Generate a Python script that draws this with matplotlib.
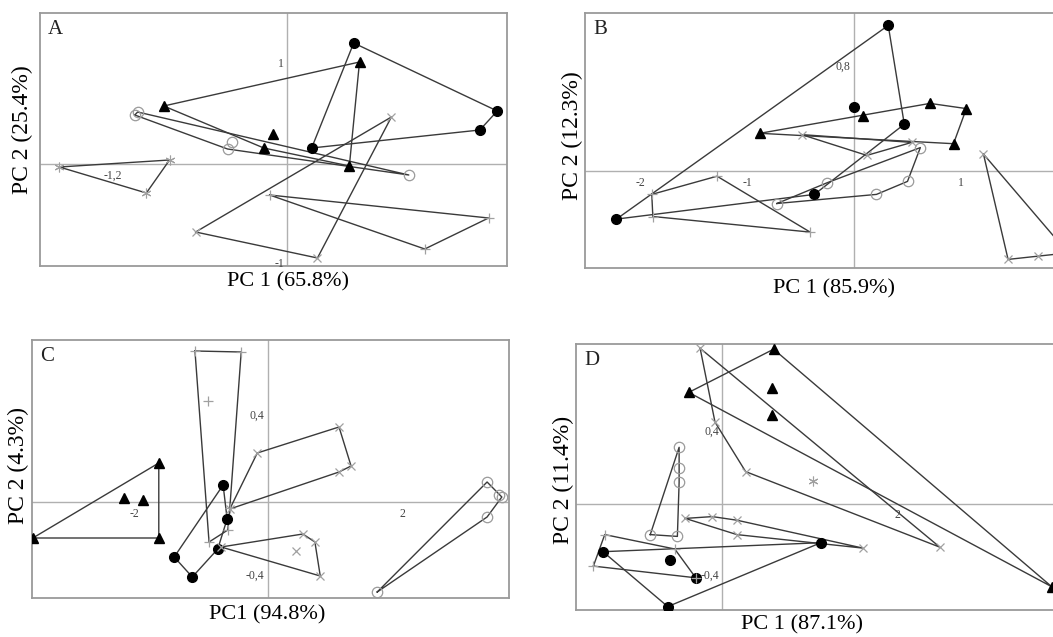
import matplotlib.pyplot as plt

plt.rcParams['font.family'] = ['Liberation Serif', 'DejaVu Serif']

W, H = 1053, 637

# ---- panel A : PC scores per group
a_dot = [(0.46, 1.21), (1.45, 0.53), (1.33, 0.34), (0.17, 0.16)]
a_tri = [(-0.85, 0.58), (0.50, 1.02), (-0.10, 0.30), (-0.16, 0.16), (0.43, -0.02)]
a_ring = [(-1.03, 0.52), (-1.05, 0.49), (-0.38, 0.22), (-0.41, 0.15), (0.84, -0.11)]
a_star = [(-1.57, -0.03), (-0.81, 0.04), (-0.97, -0.29)]
a_x = [(0.72, 0.47), (-0.63, -0.68), (0.21, -0.94)]
a_plus = [(-0.12, -0.31), (1.39, -0.54), (0.95, -0.85)]

# ---- panel B
b_dot = [(0.32, 1.12), (0.0, 0.49), (0.47, 0.36), (-0.37, -0.18), (-2.22, -0.37)]
b_tri = [(-0.88, 0.29), (0.08, 0.42), (0.71, 0.52), (1.05, 0.48), (0.93, 0.21)]
b_ring = [(0.62, 0.18), (0.50, -0.08), (0.21, -0.18), (-0.25, -0.09), (-0.72, -0.25)]
b_x = [(-0.49, 0.28), (0.12, 0.12), (0.54, 0.22)]
b_plus = [(-1.89, -0.18), (-1.28, -0.04), (-0.41, -0.47), (-1.88, -0.35)]
b_x2 = [(1.21, 0.13), (1.44, -0.68), (1.72, -0.65), (2.0, -0.63)]

# ---- panel C
c_tri = [(-1.63, 0.195), (-3.51, -0.18), (-1.63, -0.18), (-2.15, 0.02), (-1.87, 0.01)]
c_dot = [(-0.67, 0.085), (-0.61, -0.085), (-0.75, -0.235), (-1.40, -0.275), (-1.13, -0.375)]
c_plus = [(-1.09, 0.755), (-0.40, 0.75), (-0.90, 0.505), (-0.88, -0.20), (-0.57, -0.03), (-0.60, -0.14)]
c_x = [(-0.16, 0.245), (1.06, 0.375), (1.24, 0.18), (1.06, 0.15), (-0.57, -0.035)]
c_x2 = [(0.52, -0.16), (0.70, -0.20), (0.42, -0.245), (0.78, -0.37), (-0.70, -0.225)]
c_ring = [(3.27, 0.10), (3.45, 0.035), (3.49, 0.025), (3.27, -0.075), (1.63, -0.45)]

# ---- panel D
d_tri = [(0.59, 0.86), (-0.38, 0.62), (0.57, 0.645), (0.57, 0.495), (3.77, -0.46)]
d_dot = [(-1.36, -0.265), (-0.59, -0.31), (-0.30, -0.41), (-0.62, -0.57), (1.13, -0.215)]
d_plus = [(-1.34, -0.17), (-0.54, -0.25), (-0.30, -0.41), (-1.47, -0.345)]
d_ring = [(-0.49, 0.315), (-0.49, 0.20), (-0.49, 0.12), (-0.82, -0.17), (-0.51, -0.18)]
d_x = [(-0.25, 0.865), (-0.08, 0.455), (0.27, 0.18), (2.49, -0.24)]
d_x2 = [(-0.42, -0.08), (-0.11, -0.07), (0.17, -0.09), (0.17, -0.17), (1.61, -0.245)]
d_star = [(1.04, 0.13)]

STYLE = {
    'dot': dict(marker='o', color='black', ms=7),
    'tri': dict(marker='^', color='black', ms=7),
    'ring': dict(marker='o', mfc='none', mec='#9a9a9a', ms=7.5, mew=0.9),
    'x': dict(marker='x', color='#a0a0a0', ms=6, mew=0.9),
    'plus': dict(marker='+', color='#a0a0a0', ms=7, mew=0.9),
    'star': dict(marker=(6, 2, 0), color='#a0a0a0', ms=7, mew=0.8),
}


def hull(pts):
    pts = sorted(set(pts))
    if len(pts) < 3:
        return pts

    def cross(o, a, b):
        return (a[0] - o[0]) * (b[1] - o[1]) - (a[1] - o[1]) * (b[0] - o[0])

    lower, upper = [], []
    for p in pts:
        while len(lower) >= 2 and cross(lower[-2], lower[-1], p) <= 0:
            lower.pop()
        lower.append(p)
    for p in reversed(pts):
        while len(upper) >= 2 and cross(upper[-2], upper[-1], p) <= 0:
            upper.pop()
        upper.append(p)
    return lower[:-1] + upper[:-1]


# panel boxes in pixels (left, top, right, bottom), origin px, px per unit
panels = [
    dict(box=(40, 13, 507, 266), org=(287, 164), scale=(145, 100), letter='A',
         groups=[(a_dot, 'dot'), (a_tri, 'tri'), (a_ring, 'ring'), (a_star, 'star'),
                 (a_x, 'x'), (a_plus, 'plus')],
         ticks=[(-0.02, 1.0, '1', 'right', 'center'), (-0.02, -1.0, '-1', 'right', 'center'),
                (-1.2, -0.06, '-1,2', 'center', 'top')],
         xlabel=('PC 1 (65.8%)', 288, 282), ylabel=('PC 2 (25.4%)', 22, 130)),
    dict(box=(585, 13, 1070, 268), org=(854, 171), scale=(107, 130), letter='B',
         groups=[(b_dot, 'dot'), (b_tri, 'tri'), (b_ring, 'ring'), (b_x, 'x'),
                 (b_plus, 'plus'), (b_x2, 'x')],
         ticks=[(-2, -0.05, '-2', 'center', 'top'), (-1, -0.05, '-1', 'center', 'top'),
                (1, -0.05, '1', 'center', 'top'), (-0.03, 0.8, '0,8', 'right', 'center')],
         xlabel=('PC 1 (85.9%)', 834, 289), ylabel=('PC 2 (12.3%)', 572, 136)),
    dict(box=(32, 340, 509, 598), org=(268, 502), scale=(67, 200), letter='C',
         groups=[(c_tri, 'tri'), (c_dot, 'dot'), (c_plus, 'plus'), (c_x, 'x'),
                 (c_x2, 'x'), (c_ring, 'ring')],
         ticks=[(-2, -0.03, '-2', 'center', 'top'), (2, -0.03, '2', 'center', 'top'),
                (-0.05, 0.4, '0,4', 'right', 'bottom'), (-0.05, -0.4, '-0,4', 'right', 'bottom')],
         xlabel=('PC1 (94.8%)', 267, 615), ylabel=('PC 2 (4.3%)', 18, 466)),
    dict(box=(576, 344, 1070, 610), org=(722, 504), scale=(87.5, 180), letter='D',
         groups=[(d_tri, 'tri'), (d_dot, 'dot'), (d_plus, 'plus'), (d_ring, 'ring'),
                 (d_x, 'x'), (d_x2, 'x'), (d_star, 'star')],
         ticks=[(-0.03, 0.4, '0,4', 'right', 'center'), (-0.03, -0.4, '-0,4', 'right', 'center'),
                (2, -0.03, '2', 'center', 'top')],
         xlabel=('PC 1 (87.1%)', 802, 625), ylabel=('PC 2 (11.4%)', 563, 480)),
]

fig = plt.figure(figsize=(W / 100, H / 100), dpi=100)

for p in panels:
    l, t, r, b = p['box']
    ox, oy = p['org']
    sx, sy = p['scale']
    ax = fig.add_axes([l / W, 1 - b / H, (r - l) / W, (b - t) / H])
    ax.set_xlim((l - ox) / sx, (r - ox) / sx)
    ax.set_ylim((oy - b) / sy, (oy - t) / sy)
    ax.set_xticks([])
    ax.set_yticks([])
    for s in ax.spines.values():
        s.set_color('#9a9a9a')
        s.set_linewidth(1.3)
    ax.axhline(0, color='#b0b0b0', lw=1, zorder=1)
    ax.axvline(0, color='#b0b0b0', lw=1, zorder=1)

    for pts, kind in p['groups']:
        h = hull(pts)
        if len(h) >= 3:
            hx = [q[0] for q in h] + [h[0][0]]
            hy = [q[1] for q in h] + [h[0][1]]
            ax.plot(hx, hy, color='#3a3a3a', lw=1.0, zorder=2)
        ax.plot([q[0] for q in pts], [q[1] for q in pts], ls='none', zorder=3,
                **STYLE[kind])

    for x, y, s, ha, va in p['ticks']:
        ax.text(x, y, s, ha=ha, va=va, fontsize=8.5, color='#444444', zorder=4)

    ax.text(8 / (r - l), 1 - 7 / (b - t), p['letter'], transform=ax.transAxes,
            ha='left', va='top', fontsize=15, color='#222222')

    s, cx, cy = p['xlabel']
    fig.text(cx / W, 1 - cy / H, s, ha='center', va='center', fontsize=16)
    s, cx, cy = p['ylabel']
    fig.text(cx / W, 1 - cy / H, s, ha='center', va='center', fontsize=17,
             rotation=90)

fig.savefig('out.png', dpi=100, facecolor='white')
